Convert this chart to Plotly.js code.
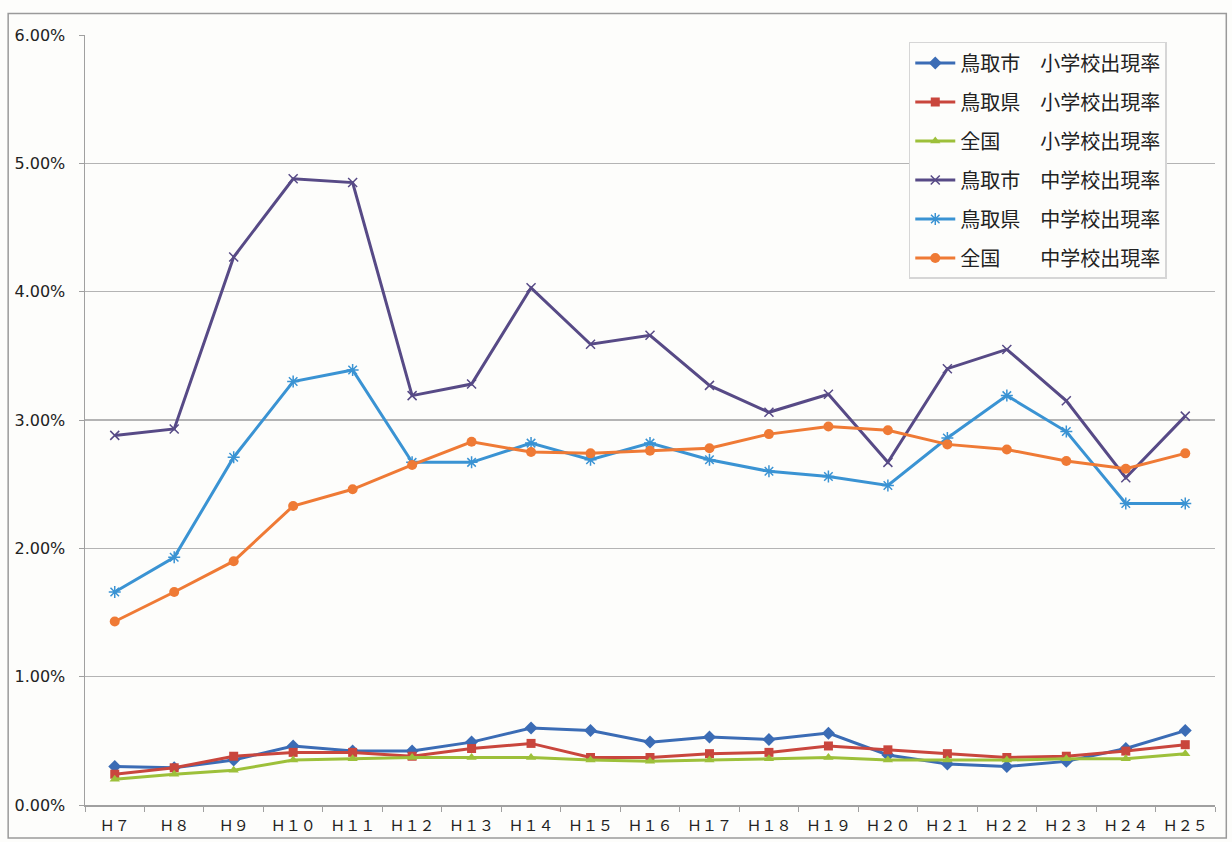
<!DOCTYPE html>
<html>
<head>
<meta charset="utf-8">
<script src="https://cdn.plot.ly/plotly-3.0.1.min.js"></script>
<style>
html,body{margin:0;padding:0;background:#fdfdfb;}
#chart{width:1232px;height:842px;}
</style>
</head>
<body>
<div id="chart"></div>
<script>
const categories = ["Ｈ７","Ｈ８","Ｈ９","Ｈ１０","Ｈ１１","Ｈ１２","Ｈ１３","Ｈ１４","Ｈ１５","Ｈ１６","Ｈ１７","Ｈ１８","Ｈ１９","Ｈ２０","Ｈ２１","Ｈ２２","Ｈ２３","Ｈ２４","Ｈ２５"];

const cityElem   = [0.30,0.29,0.35,0.46,0.42,0.42,0.49,0.60,0.58,0.49,0.53,0.51,0.56,0.39,0.32,0.30,0.34,0.44,0.58];
const prefElem   = [0.24,0.29,0.38,0.41,0.41,0.38,0.44,0.48,0.37,0.37,0.40,0.41,0.46,0.43,0.40,0.37,0.38,0.42,0.47];
const natElem    = [0.20,0.24,0.27,0.35,0.36,0.37,0.37,0.37,0.35,0.34,0.35,0.36,0.37,0.35,0.35,0.35,0.36,0.36,0.40];
const cityJunior = [2.88,2.93,4.27,4.88,4.85,3.19,3.28,4.03,3.59,3.66,3.27,3.06,3.20,2.67,3.40,3.55,3.15,2.55,3.03];
const prefJunior = [1.66,1.93,2.71,3.30,3.39,2.67,2.67,2.82,2.69,2.82,2.69,2.60,2.56,2.49,2.86,3.19,2.91,2.35,2.35];
const natJunior  = [1.43,1.66,1.90,2.33,2.46,2.65,2.83,2.75,2.74,2.76,2.78,2.89,2.95,2.92,2.81,2.77,2.68,2.62,2.74];

const seriesNames = ["鳥取市　小学校出現率","鳥取県　小学校出現率","全国　　小学校出現率","鳥取市　中学校出現率","鳥取県　中学校出現率","全国　　中学校出現率"];
const yTickVals = [0,1,2,3,4,5,6];

const styles = [
  {color:"#3b6cb5", symbol:"diamond", size:10},
  {color:"#c9463d", symbol:"square", size:9},
  {color:"#9dc03a", symbol:"triangle-up", size:9},
  {color:"#574a86", symbol:"x-thin-open", size:9},
  {color:"#3a93d3", symbol:"asterisk-open", size:10},
  {color:"#ef7a35", symbol:"circle", size:10}
];
const allSeries = [cityElem, prefElem, natElem, cityJunior, prefJunior, natJunior];

const traces = allSeries.map((vals,i)=>({
  type:"scatter", mode:"lines+markers",
  x: categories, y: vals, name: seriesNames[i],
  legendgroup: "g"+i, legendrank: i+1,
  line:{color:styles[i].color, width:3},
  marker:{color:styles[i].color, symbol:styles[i].symbol, size:styles[i].size,
          line:{color:styles[i].color, width: (i===3||i===4)?1.5:0}},
  cliponaxis:false
}));

const layout = {
  width:1232, height:842,
  paper_bgcolor:"#fdfdfb", plot_bgcolor:"#fdfdfb",
  margin:{l:85, r:17, t:35, b:37},
  font:{family:"Noto Sans CJK JP, Noto Sans, sans-serif", color:"#222"},
  showlegend:true,
  legend:{
    x:0.729, y:0.991, xanchor:"left", yanchor:"top",
    bgcolor:"#fdfdfb", bordercolor:"#d6d6d6", borderwidth:1.5,
    font:{family:"Noto Sans CJK JP", size:20, color:"#222"},
    tracegroupgap:10, itemwidth:40,
    traceorder:"grouped"
  },
  xaxis:{
    type:"category", range:[-0.5,18.5],
    showgrid:false, showline:true, linecolor:"#a0a0a0", linewidth:1.5,
    ticks:"outside", tickson:"boundaries", ticklen:5, tickcolor:"#a0a0a0",
    tickfont:{family:"Noto Sans CJK JP", size:15, color:"#222"},
    ticklabelstandoff:6,
    zeroline:false, fixedrange:true
  },
  yaxis:{
    range:[0,6], tickvals:yTickVals, ticktext:yTickVals.map(v=>v.toFixed(2)+"%"),
    showgrid:true, gridcolor:"#b4b4b4", gridwidth:1.5,
    showline:true, linecolor:"#a0a0a0", linewidth:1.5,
    ticks:"outside", ticklen:5, tickcolor:"#a0a0a0",
    tickfont:{family:"DejaVu Sans", size:16, color:"#222"},
    ticklabelstandoff:10,
    zeroline:false, fixedrange:true
  },
  shapes:[
    {type:"rect", xref:"paper", yref:"paper", x0:-0.068, x1:1.01, y0:-0.043, y1:1.028,
     line:{color:"#9a9a9a", width:1.5}, fillcolor:"rgba(0,0,0,0)", layer:"below"}
  ]
};

// draw junior-high lines underneath, legend keeps original order via legendrank
const data = [traces[3],traces[4],traces[5],traces[0],traces[1],traces[2]];

Plotly.newPlot("chart", data, layout, {displayModeBar:false, staticPlot:true});
</script>
</body>
</html>
